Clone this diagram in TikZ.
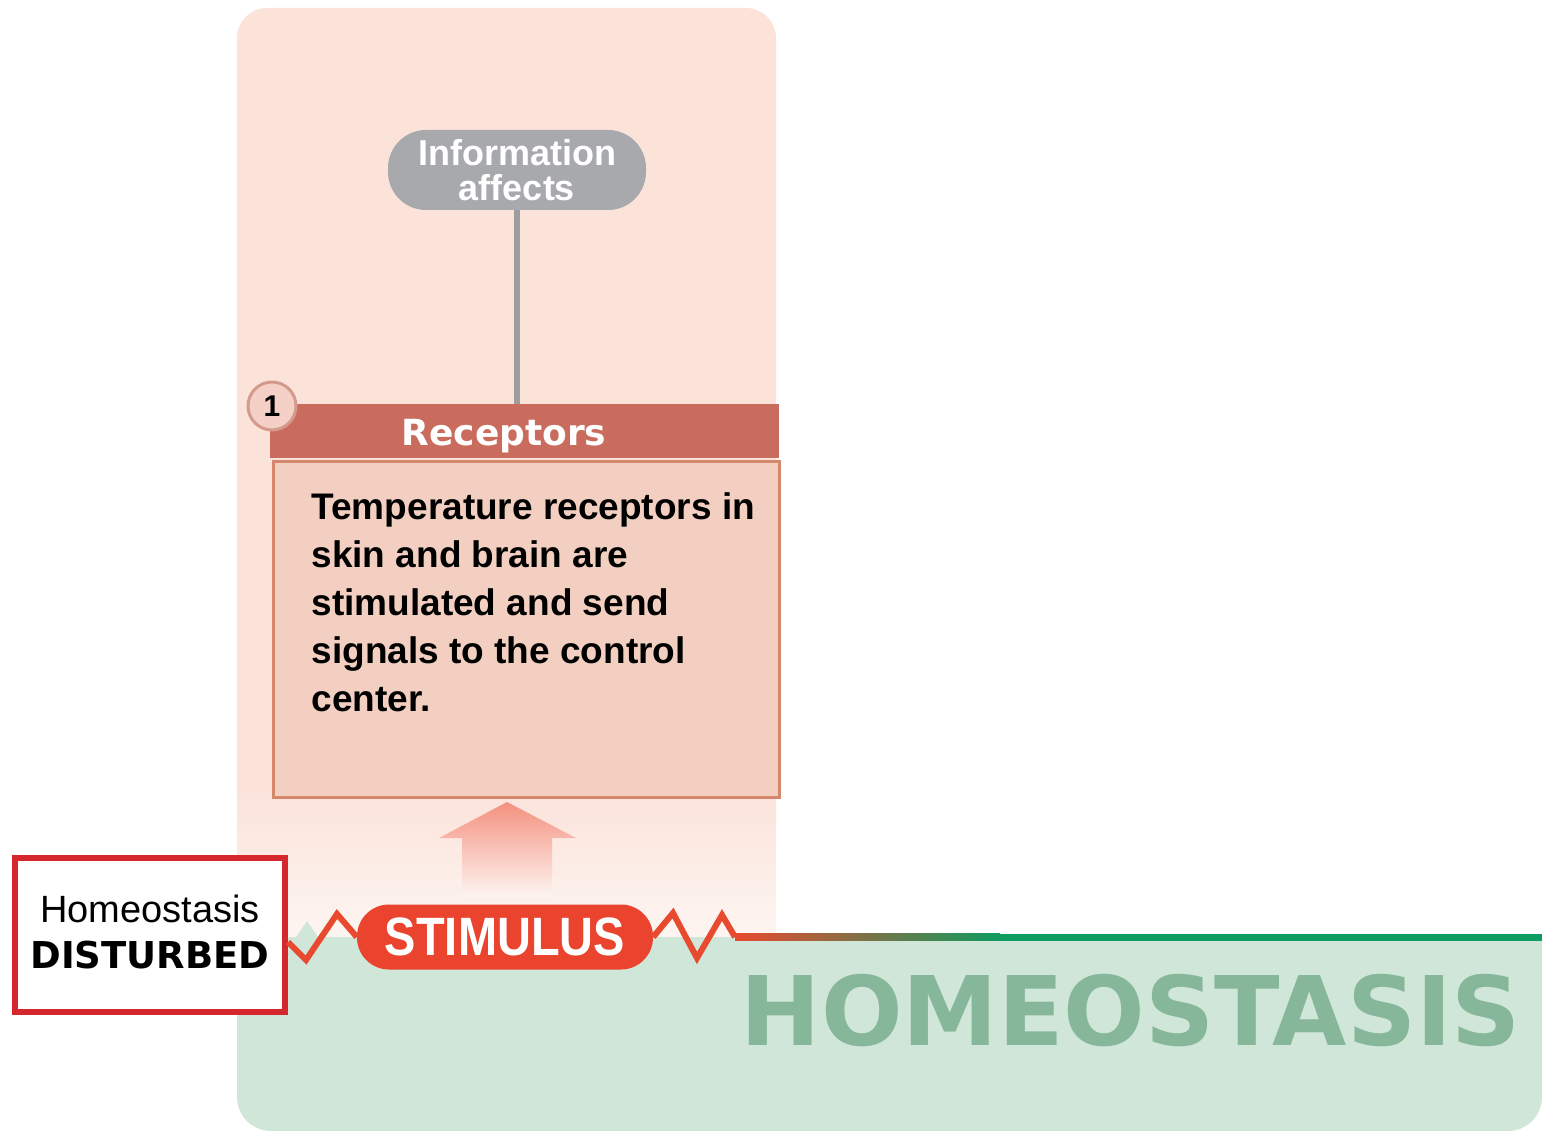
\documentclass[tikz,border=0pt]{standalone}
\usepackage{fontspec}
\setmainfont{Liberation Sans}
\newfontfamily\heavyfont{DejaVu Sans}
\usetikzlibrary{positioning}

\definecolor{panelpink}{HTML}{FBE3DA}
\definecolor{panelfade}{HTML}{FDF5F1}
\definecolor{infogray}{HTML}{A7A9AC}
\definecolor{linegray}{HTML}{9E9E9E}
\definecolor{headred}{HTML}{C96B5D}
\definecolor{bodyfill}{HTML}{F2CFC0}
\definecolor{bodyline}{HTML}{D4876A}
\definecolor{numfill}{HTML}{F4D0C6}
\definecolor{numline}{HTML}{D49B8C}
\definecolor{arrowc}{HTML}{F4917F}
\definecolor{distred}{HTML}{D7272E}
\definecolor{zigred}{HTML}{E84A2F}
\definecolor{stimfill}{HTML}{EA442E}
\definecolor{homebg}{HTML}{CFE6D8}
\definecolor{homegreen}{HTML}{0E9C60}
\definecolor{homeotext}{HTML}{86B79A}

\tikzset{
  infobox/.style={fill=infogray, rounded corners=38pt, minimum width=258pt, minimum height=80pt,
    inner sep=0pt, align=center, text=white,
    font=\fontsize{36}{35}\selectfont\bfseries},
  headbox/.style={fill=headred, minimum width=509pt, minimum height=54pt, inner sep=0pt},
  bodybox/.style={fill=bodyfill, draw=bodyline, line width=3pt, minimum width=506pt,
    minimum height=336pt, inner sep=0pt},
  numcircle/.style={circle, fill=numfill, draw=numline, line width=3pt, minimum size=48pt,
    inner sep=0pt, font=\fontsize{30}{30}\selectfont\bfseries},
  distbox/.style={draw=distred, fill=white, line width=6pt, minimum width=270pt,
    minimum height=154pt, inner sep=0pt},
  stimpill/.style={fill=stimfill, rounded corners=32pt, minimum width=296pt, minimum height=65pt,
    inner sep=0pt, text=white},
  conline/.style={linegray, line width=6pt},
  zigline/.style={zigred, line width=6pt, line join=miter},
}

\begin{document}
\begin{tikzpicture}[x=1pt, y=-1pt]
    \useasboundingbox (0,0) rectangle (1542,1131);

    % Rosa Feld
    \fill[panelpink] (237,790) [rounded corners=30pt] -- (237,8) -- (776,8) [sharp corners] -- (776,790) -- cycle;
    \shade[top color=panelpink, bottom color=panelfade] (237,789) rectangle (776,937);

    % Gruenes Feld
    \fill[homebg] (1542,937) -- (237,937) [rounded corners=34pt] -- (237,1131) -- (1542,1131) [sharp corners] -- cycle;
    \fill[homebg] (296,937) -- (307,921) -- (318,937) -- cycle;

    % Information
    \node[infobox] (info) at (517,170) {Information\\affects};

    % Rezeptoren
    \node[headbox, anchor=north west] (rec) at (270,404) {};
    \node[text=white, font=\heavyfont\bfseries\fontsize{36}{36}\selectfont, anchor=base] (rectext) at (504,445) {Receptors};
    \node[bodybox, anchor=north west] (body) at (271.5,459.5) {};
    \node[anchor=base west, align=left, font=\fontsize{37}{48}\selectfont\bfseries] (bodytext) at (308,711)
        {Temperature receptors in\\skin and brain are\\stimulated and send\\signals to the control\\center.};
    \node[numcircle] (num) at (272,406) {1};

    \draw[conline] (info.south) -- (info.south |- rec.north);

    % Pfeil nach oben
    \shade[top color=arrowc, middle color=arrowc!85!panelfade, bottom color=panelfade]
        (507,802) -- (576,838) -- (552,838) -- (552,897) -- (462,897) -- (462,838) -- (439,838) -- cycle;

    % Stoerung
    \node[distbox] (dist) at (150,935) {};
    \node[anchor=base, font=\fontsize{38}{47}\selectfont] (disttop) at (150,922) {Homeostasis};
    \node[anchor=base, font=\heavyfont\bfseries\fontsize{37}{46}\selectfont] (distbot) at (150,968) {DISTURBED};

    \node[stimpill] (stim) at (505,937) {\fontsize{54}{54}\selectfont\bfseries\scalebox{0.87}[1]{STIMULUS}};

    % Zickzack
    \draw[zigline] ([yshift=-7pt]dist.east) -- (306,960) -- (337,914) -- (stim.west);
    \draw[zigline] (stim.east) -- (673,913) -- (697,958) -- (722,915) -- (735,937) coordinate (lineStart);
    \shade[left color=zigred, right color=homegreen] (lineStart) ++(0,-3.5) rectangle (1000,940.5);
    \fill[homegreen] (1000,933.5) rectangle (1542,940.5);

    \node[text=homeotext, font=\heavyfont\bfseries\fontsize{96}{96}\selectfont, anchor=base] (homeo) at (1131,1045) {HOMEOSTASIS};

\end{tikzpicture}
\end{document}
